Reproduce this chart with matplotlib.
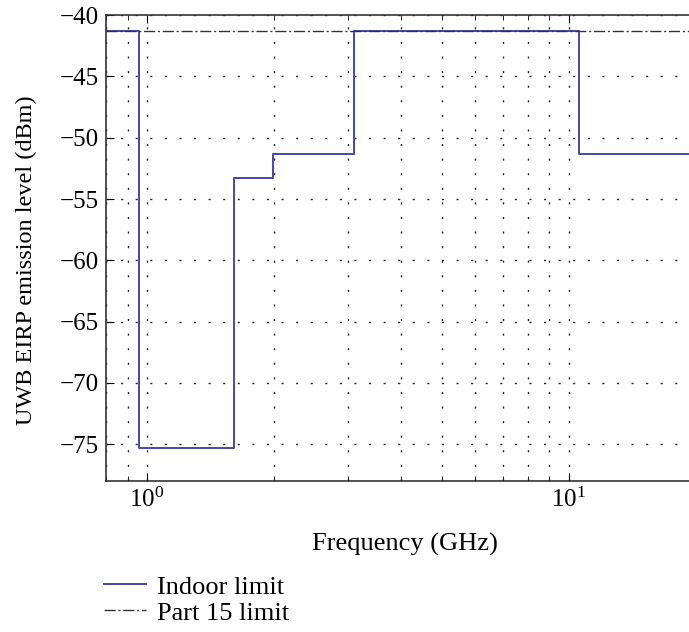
import numpy as np
import matplotlib.pyplot as plt
from matplotlib.ticker import LogLocator, NullFormatter

plt.rcParams['font.family'] = ['Liberation Serif', 'DejaVu Serif']
plt.rcParams['mathtext.fontset'] = 'stix'

# FCC indoor UWB emission mask (GHz, dBm)
edges_ghz = [0.8, 0.96, 1.61, 1.99, 3.1, 10.6, 20.0]
indoor_dbm = [-41.3, -75.3, -53.3, -51.3, -41.3, -51.3]
part15_dbm = -41.3

x_steps = np.array(edges_ghz)
y_steps = np.array(indoor_dbm + [indoor_dbm[-1]])

fig = plt.figure(figsize=(6.89, 6.32), dpi=100)
ax = fig.add_axes([0.154, 0.239, 0.846, 0.737])

ax.step(x_steps, y_steps, where='post', color='#4646b0', lw=1.4, label='Indoor limit')
ax.axhline(part15_dbm, color='#333333', lw=1.0, ls='-.', dashes=(8, 2, 1.5, 2), label='Part 15 limit')

ax.set_xscale('log')
ax.set_xlim(0.8, 19.3)
ax.set_ylim(-78, -40)
ax.set_yticks(np.arange(-75, -39, 5))
ax.xaxis.set_minor_locator(LogLocator(base=10, subs=np.arange(2, 10)))
ax.xaxis.set_minor_formatter(NullFormatter())

dots = (0, (1.5, 9))
ax.grid(True, which='major', ls=dots, color='#222222', lw=1.0)
ax.grid(True, which='minor', axis='x', ls=dots, color='#222222', lw=1.0)
ax.tick_params(which='both', direction='in', top=True, right=False, labelsize=18, pad=5)
ax.tick_params(which='minor', length=3.5)
ax.tick_params(which='major', length=6)
ax.spines['right'].set_visible(False)
for s in ['left', 'bottom', 'top']:
    ax.spines[s].set_color('#333333')
    ax.spines[s].set_linewidth(1.2)

ax.set_xlabel('Frequency (GHz)', fontsize=19)
ax.set_ylabel('UWB EIRP emission level (dBm)', fontsize=17.5)
ax.xaxis.set_label_coords(0.513, -0.112)
ax.yaxis.set_label_coords(-0.118, 0.474)

fig.legend(loc='upper left', bbox_to_anchor=(0.151, 0.09), frameon=False,
           fontsize=19, handlelength=1.6, handletextpad=0.42, borderpad=0,
           labelspacing=0.1, borderaxespad=0)

fig.savefig('out.png', dpi=100)
